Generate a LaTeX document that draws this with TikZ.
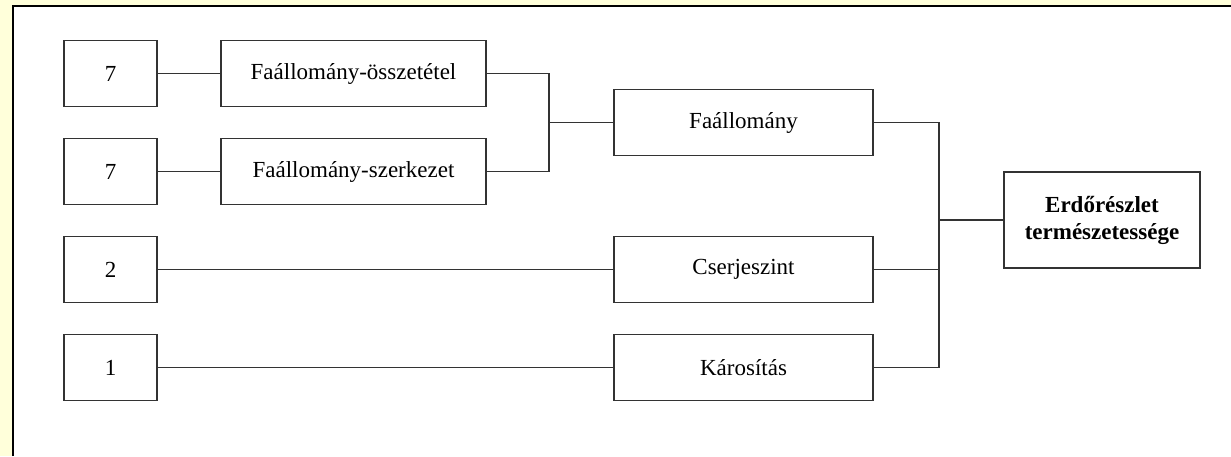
\documentclass[tikz,border=0pt]{standalone}
\usepackage{fontspec}
\setmainfont{Liberation Serif}
\definecolor{bgyellow}{HTML}{FFFFDA}
\definecolor{linegray}{HTML}{333333}
\begin{document}
\begin{tikzpicture}[x=1pt,y=-1pt,
  box/.style={draw=linegray,line width=1.4pt,rectangle,minimum height=66pt,inner sep=0pt,
    font=\fontsize{23}{27}\selectfont,align=center},
  numbox/.style={box,minimum width=93pt},
  midbox/.style={box,minimum width=265pt},
  rightbox/.style={box,minimum width=259pt},
  conn/.style={draw=linegray,line width=1.3pt}]
\useasboundingbox (0,0) rectangle (1231,456);
\fill[bgyellow] (0,0) rectangle (1231,456);
\fill[white] (13,6) rectangle (1231,456);
\draw[line width=2pt] (13,456) -- (13,6) -- (1231,6);

\node[numbox] (n7a) at (110.5,73.5) {7};
\node[numbox] (n7b) at (110.5,171.5) {7};
\node[numbox] (n2) at (110.5,269.5) {2};
\node[numbox] (n1) at (110.5,367.5) {1};
\node[midbox] (fo) at (353.5,73.5) {Faállomány-összetétel};
\node[midbox] (fsz) at (353.5,171.5) {Faállomány-szerkezet};
\node[rightbox] (fa) at (743.5,122.5) {Faállomány};
\node[rightbox] (cs) at (743.5,269.5) {Cserjeszint};
\node[rightbox] (ka) at (743.5,367.5) {Károsítás};
\node[box,minimum width=196pt,minimum height=96pt,font=\fontsize{23}{27}\selectfont\bfseries] (er) at (1102,220) {Erdőrészlet\\természetessége};

\coordinate (j1) at (549,122.5);
\coordinate (j2) at (939,220);

\draw[conn] (n7a) -- (fo);
\draw[conn] (n7b) -- (fsz);
\draw[conn] (n2) -- (cs);
\draw[conn] (n1) -- (ka);
\draw[conn] (fo.east) -| (j1) |- (fsz.east);
\draw[conn] (j1) -- (fa.west);
\draw[conn] (fa.east) -| (j2);
\draw[conn] (cs.east) -| (j2);
\draw[conn] (ka.east) -| (j2);
\draw[conn] (j2) -- (er.west);
\end{tikzpicture}
\end{document}
